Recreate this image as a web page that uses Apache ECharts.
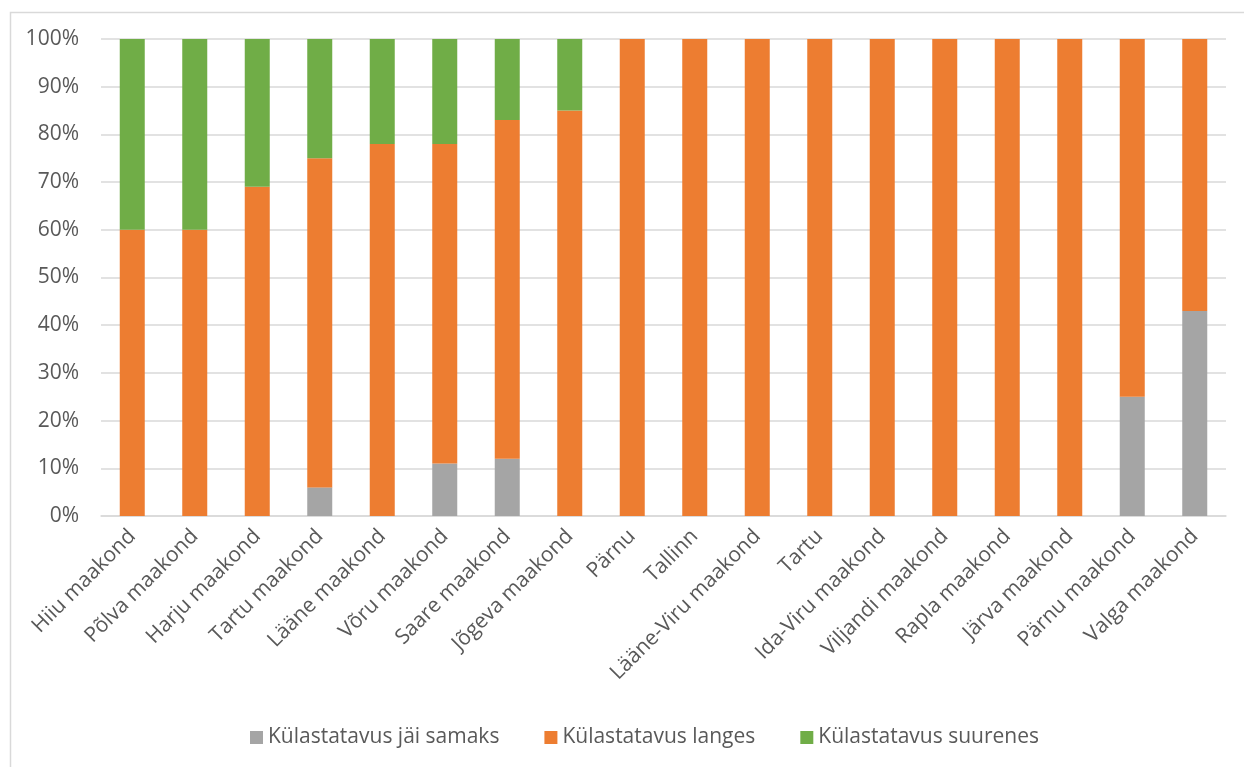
<!DOCTYPE html>
<html>
<head>
<meta charset="utf-8">
<script src="https://cdn.jsdelivr.net/npm/echarts@6/dist/echarts.min.js"></script>
<style>html,body{margin:0;padding:0;background:#fff}#c{width:1244px;height:767px}</style>
</head>
<body>
<div id="c"></div>
<script>
const categories = ["Hiiu maakond","Põlva maakond","Harju maakond","Tartu maakond","Lääne maakond","Võru maakond","Saare maakond","Jõgeva maakond","Pärnu","Tallinn","Lääne-Viru maakond","Tartu","Ida-Viru maakond","Viljandi maakond","Rapla maakond","Järva maakond","Pärnu maakond","Valga maakond"];
const samaks =   [0, 0, 0, 6, 0, 11, 12, 0, 0, 0, 0, 0, 0, 0, 0, 0, 25, 43];
const langes =   [60, 60, 69, 69, 78, 67, 71, 85, 100, 100, 100, 100, 100, 100, 100, 100, 75, 57];
const suurenes = [40, 40, 31, 25, 22, 22, 17, 15, 0, 0, 0, 0, 0, 0, 0, 0, 0, 0];
const seriesNames = ["Külastatavus jäi samaks","Külastatavus langes","Külastatavus suurenes"];
const colors = ["#A5A5A5","#ED7D31","#70AD47"];

const chart = echarts.init(document.getElementById('c'));
const font = "'Open Sans', 'Liberation Sans', sans-serif";
const mk = (name, data, color) => ({
  name, type: 'bar', stack: 'total', data, barWidth: 25,
  itemStyle: { color },
  emphasis: { disabled: true }
});
chart.setOption({
  animation: false,
  textStyle: { fontFamily: font },
  color: colors,
  graphic: [{
    type: 'rect', left: 8, top: 10,
    shape: { width: 1300, height: 800 },
    style: { fill: 'none', stroke: '#D9D9D9', lineWidth: 1.5 },
    silent: true, z: -1
  }],
  grid: { left: 101, right: 18, top: 39, bottom: 251, containLabel: false },
  legend: {
    top: 722, left: 245, itemWidth: 13, itemHeight: 13, itemGap: 45,
    icon: 'rect',
    textStyle: { color: '#595959', fontSize: 21, fontFamily: font },
    data: seriesNames
  },
  xAxis: {
    type: 'category', data: categories,
    axisLine: { show: true, lineStyle: { color: '#D9D9D9', width: 1.5 } },
    axisTick: { show: false },
    axisLabel: { rotate: 45, color: '#595959', fontSize: 21, margin: 17, interval: 0, fontFamily: font }
  },
  yAxis: {
    type: 'value', min: 0, max: 100, interval: 10,
    axisLine: { show: false }, axisTick: { show: false },
    splitLine: { lineStyle: { color: '#D9D9D9', width: 1.5 } },
    axisLabel: { formatter: '{value}%', color: '#595959', fontSize: 21, margin: 22, fontFamily: font }
  },
  series: [
    mk(seriesNames[0], samaks, colors[0]),
    mk(seriesNames[1], langes, colors[1]),
    mk(seriesNames[2], suurenes, colors[2])
  ]
});
</script>
</body>
</html>
